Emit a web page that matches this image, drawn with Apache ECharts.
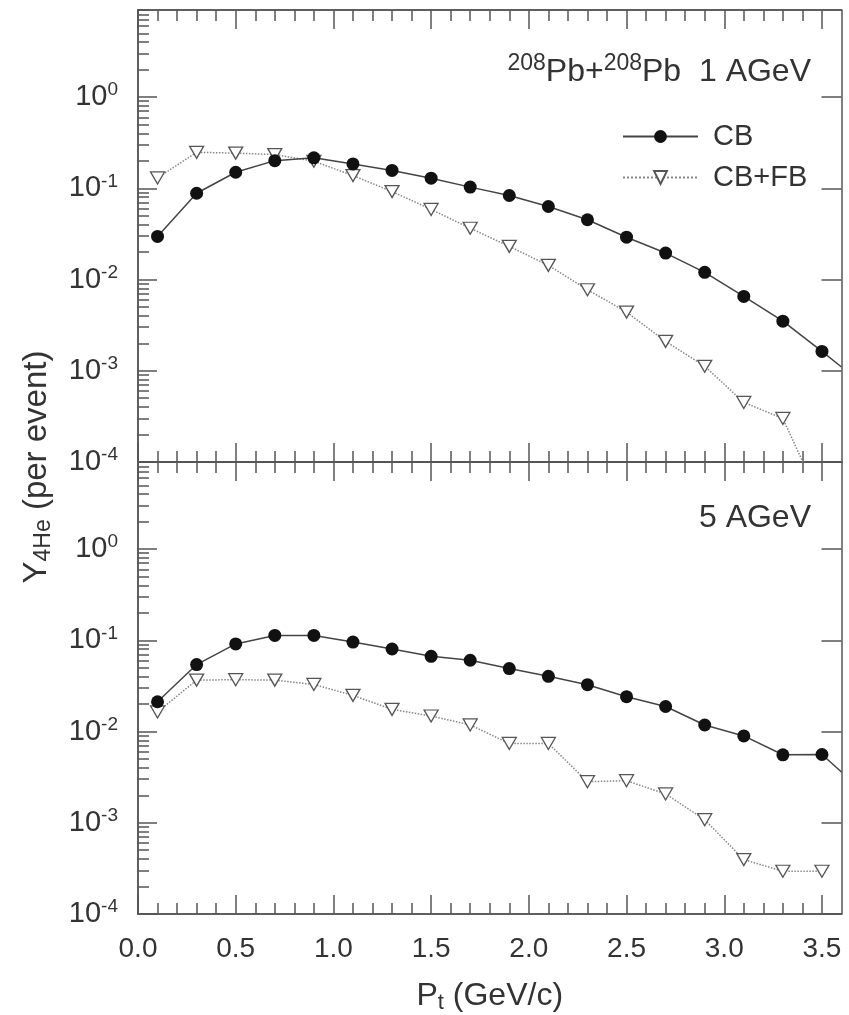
<!DOCTYPE html>
<html>
<head>
<meta charset="utf-8">
<script src="https://cdn.jsdelivr.net/npm/echarts@6/dist/echarts.min.js"></script>
<style>
  html, body { margin: 0; padding: 0; background: #fff; }
  #chart { width: 849px; height: 1015px; }
</style>
</head>
<body>
<div id="chart"></div>
<script>
  // transverse momentum bins (GeV/c)
  var ptValues = [0.1, 0.3, 0.5, 0.7, 0.9, 1.1, 1.3, 1.5, 1.7, 1.9, 2.1, 2.3, 2.5, 2.7, 2.9, 3.1, 3.3, 3.5]

  // 1 AGeV panel
  var cb1AGeV = [0.0297, 0.0883, 0.150, 0.201, 0.216, 0.185, 0.157, 0.129, 0.103, 0.0834, 0.0632, 0.0452, 0.0291, 0.0195, 0.0120, 0.00653, 0.0035, 0.00163]
  var cbfb1AGeV = [0.130, 0.248, 0.243, 0.234, 0.198, 0.138, 0.092, 0.0587, 0.0365, 0.0231, 0.0143, 0.00773, 0.00440, 0.0021, 0.00112, 0.00045, 0.00030, 0.000035]

  // 5 AGeV panel
  var cb5AGeV = [0.0212, 0.0542, 0.0912, 0.113, 0.113, 0.0957, 0.0803, 0.0667, 0.0604, 0.049, 0.0403, 0.0326, 0.0241, 0.0188, 0.0118, 0.00895, 0.00556, 0.0056]
  var cbfb5AGeV = [0.0164, 0.0366, 0.0370, 0.0366, 0.0328, 0.0249, 0.0175, 0.0148, 0.0118, 0.0074, 0.0074, 0.00282, 0.00289, 0.00207, 0.00108, 0.000395, 0.000294, 0.000294]

  // the CB curves run on to the right frame
  var edgePt = 3.6
  var cb1Edge = 0.0011
  var cb5Edge = 0.0036

  // axis ranges and ticks
  var xMin = 0
  var xMax = 3.6
  var yMin = 1e-4
  var yMax = 9
  var xMajor = [0, 0.5, 1.0, 1.5, 2.0, 2.5, 3.0, 3.5]
  var xMinor = [0.1, 0.2, 0.3, 0.4, 0.6, 0.7, 0.8, 0.9, 1.1, 1.2, 1.3, 1.4, 1.6, 1.7, 1.8, 1.9,
    2.1, 2.2, 2.3, 2.4, 2.6, 2.7, 2.8, 2.9, 3.1, 3.2, 3.3, 3.4]
  var yMajor = [1e-4, 1e-3, 1e-2, 1e-1, 1]
  var yMinorSteps = [2, 3, 4, 5, 6, 7, 8, 9]

  var yMinor = []
  for (var d = 0; d < yMajor.length; d++) {
    for (var m = 0; m < yMinorSteps.length; m++) {
      var v = parseFloat((yMajor[d] * yMinorSteps[m]).toPrecision(3))
      if (v <= yMax) yMinor.push(v)
    }
  }

  var font = 'Liberation Sans, Arial, sans-serif'
  var textColor = '#333'
  var frame = { color: '#555', width: 1.5 }

  function pairs (xs, ys) {
    var out = []
    for (var i = 0; i < xs.length; i++) out.push([xs[i], ys[i]])
    return out
  }

  function xAxisDef (grid, pos, ticks, len, labels) {
    var axis = {
      type: 'value',
      gridIndex: grid,
      position: pos,
      min: xMin,
      max: xMax,
      axisLine: { show: true, onZero: false, lineStyle: frame },
      axisTick: { show: true, inside: true, length: len, customValues: ticks, lineStyle: frame },
      axisLabel: { show: false },
      splitLine: { show: false }
    }
    if (labels) {
      axis.axisLabel = {
        show: true,
        customValues: xMajor,
        margin: 21,
        color: textColor,
        fontFamily: font,
        fontSize: 28,
        formatter: function (val) { return val.toFixed(1) }
      }
      axis.name = '{a|P}{s|t}{a| (GeV/c)}'
      axis.nameLocation = 'middle'
      axis.nameGap = 64
      axis.nameTextStyle = {
        rich: {
          a: { fontFamily: font, fontSize: 32, color: textColor },
          s: { fontFamily: font, fontSize: 22, color: textColor, padding: [14, 0, 0, 0] }
        }
      }
    }
    return axis
  }

  function yAxisDef (grid, pos, ticks, len, labels) {
    var axis = {
      type: 'log',
      logBase: 10,
      gridIndex: grid,
      position: pos,
      min: yMin,
      max: yMax,
      axisLine: { show: true, onZero: false, lineStyle: frame },
      axisTick: { show: true, inside: true, length: len, customValues: ticks, lineStyle: frame },
      axisLabel: { show: false },
      splitLine: { show: false }
    }
    if (labels) {
      axis.axisLabel = {
        show: true,
        customValues: yMajor,
        margin: 20,
        formatter: function (val) {
          var e = Math.round(Math.log10(val))
          return '{b|10}{s|' + e + '}'
        },
        rich: {
          b: { fontFamily: font, fontSize: 29, color: textColor },
          s: { fontFamily: font, fontSize: 19, color: textColor, padding: [0, 0, 14, 0] }
        }
      }
    }
    return axis
  }

  function cbSeries (xi, yi, values, edge) {
    var data = pairs(ptValues, values)
    data.push({ value: [edgePt, edge], symbol: 'none' })
    return {
      name: 'CB',
      type: 'line',
      xAxisIndex: xi,
      yAxisIndex: yi,
      data: data,
      symbol: 'circle',
      symbolSize: 13,
      clip: true,
      z: 4,
      itemStyle: { color: '#111' },
      lineStyle: { color: '#444', width: 1.5, type: 'solid' }
    }
  }

  function cbfbSeries (xi, yi, values) {
    return {
      name: 'CB+FB',
      type: 'line',
      xAxisIndex: xi,
      yAxisIndex: yi,
      data: pairs(ptValues, values),
      symbol: 'triangle',
      symbolRotate: 180,
      symbolSize: [14, 12],
      clip: true,
      z: 3,
      itemStyle: { color: '#fff', borderColor: '#555', borderWidth: 1.3 },
      lineStyle: { color: '#888', width: 1.5, type: 'dotted' }
    }
  }

  var chart = echarts.init(document.getElementById('chart'))
  chart.setOption({
    animation: false,
    backgroundColor: '#fff',
    grid: [
      { left: 138, top: 10, width: 703.5, height: 452 },
      { left: 138, top: 462, width: 703.5, height: 454 }
    ],
    xAxis: [
      xAxisDef(0, 'bottom', xMajor, 19, false),
      xAxisDef(0, 'bottom', xMinor, 11, false),
      xAxisDef(0, 'top', xMajor, 19, false),
      xAxisDef(0, 'top', xMinor, 11, false),
      xAxisDef(1, 'bottom', xMajor, 19, true),
      xAxisDef(1, 'bottom', xMinor, 11, false),
      xAxisDef(1, 'top', xMajor, 19, false),
      xAxisDef(1, 'top', xMinor, 11, false)
    ],
    yAxis: [
      yAxisDef(0, 'left', yMajor, 19, true),
      yAxisDef(0, 'left', yMinor, 11, false),
      yAxisDef(0, 'right', yMajor, 20, false),
      yAxisDef(1, 'left', yMajor, 19, true),
      yAxisDef(1, 'left', yMinor, 11, false),
      yAxisDef(1, 'right', yMajor, 20, false)
    ],
    legend: {
      orient: 'vertical',
      left: 617,
      top: 117,
      itemWidth: 75,
      itemHeight: 16,
      itemGap: 12,
      textStyle: { fontFamily: font, fontSize: 29, color: textColor, padding: [0, 0, 0, 10] },
      data: ['CB', 'CB+FB']
    },
    graphic: [
      {
        type: 'text',
        x: 811,
        y: 72,
        style: {
          text: '{s|208}{a|Pb+}{s|208}{a|Pb  1 AGeV}',
          align: 'right',
          verticalAlign: 'middle',
          rich: {
            a: { fontFamily: font, fontSize: 32, fill: textColor },
            s: { fontFamily: font, fontSize: 23, fill: textColor, padding: [0, 0, 16, 0] }
          }
        }
      },
      {
        type: 'text',
        x: 811,
        y: 518,
        style: {
          text: '5 AGeV',
          align: 'right',
          verticalAlign: 'middle',
          font: '32px ' + font,
          fill: textColor
        }
      },
      {
        type: 'text',
        x: 37,
        y: 467,
        rotation: Math.PI / 2,
        style: {
          text: '{a|Y}{s|4He}{a| (per event)}',
          align: 'center',
          verticalAlign: 'middle',
          rich: {
            a: { fontFamily: font, fontSize: 33, fill: textColor },
            s: { fontFamily: font, fontSize: 23, fill: textColor, padding: [14, 0, 0, 0] }
          }
        }
      }
    ],
    series: [
      cbSeries(0, 0, cb1AGeV, cb1Edge),
      cbfbSeries(0, 0, cbfb1AGeV),
      cbSeries(4, 3, cb5AGeV, cb5Edge),
      cbfbSeries(4, 3, cbfb5AGeV)
    ]
  })
</script>
</body>
</html>
